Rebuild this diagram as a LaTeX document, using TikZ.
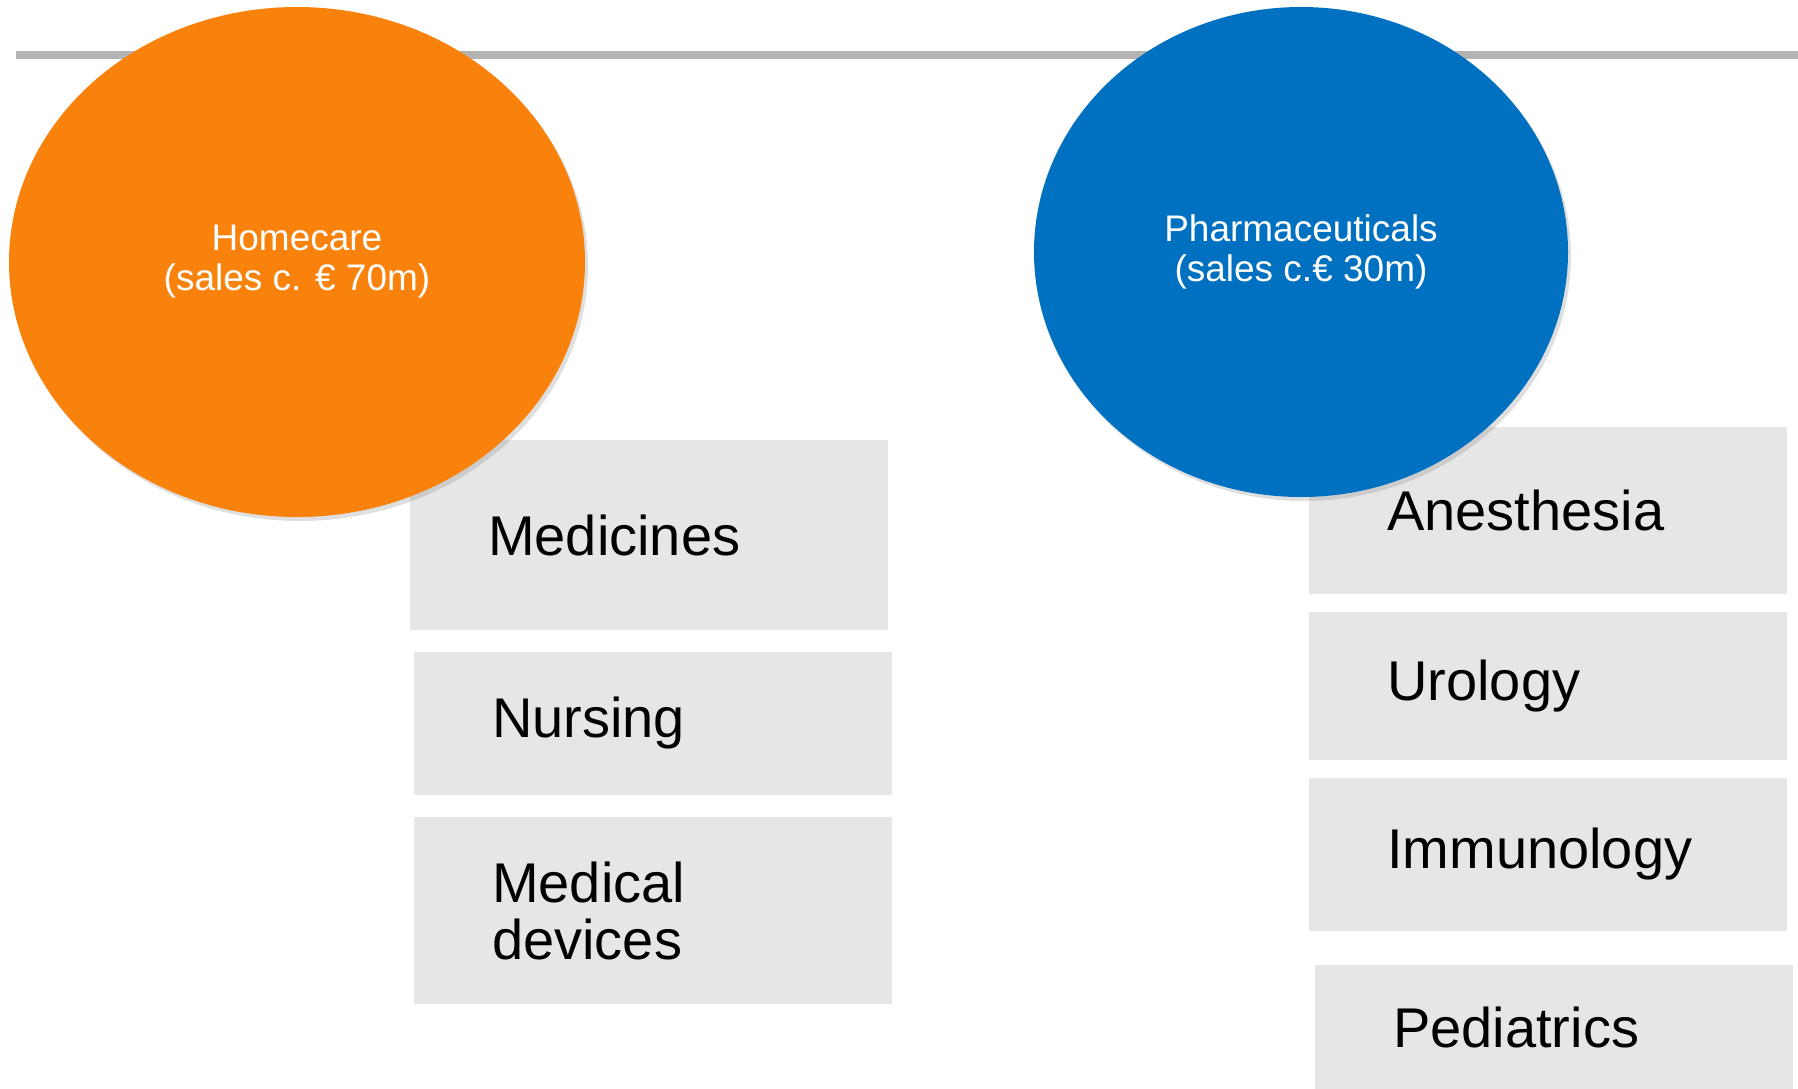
\documentclass[tikz,border=0pt]{standalone}
\usepackage{fontspec}
\setmainfont{Liberation Sans}
\usetikzlibrary{positioning,shapes.geometric,shadows}
\definecolor{homeorange}{HTML}{F8820B}
\definecolor{pharmablue}{HTML}{0070C0}
\definecolor{rulegray}{HTML}{B3B3B3}
\definecolor{boxgray}{HTML}{E6E6E6}

\begin{document}
\begin{tikzpicture}[x=1pt, y=-1pt, node distance={20pt},
    main/.style = {rectangle, fill=boxgray, inner xsep=78pt, inner ysep=0pt, text width=322pt, align=left, font=\fontsize{56}{57}\selectfont},
    bubble/.style = {ellipse, inner sep=0pt, text=white, align=center, font=\fontsize{37}{40}\selectfont, drop shadow={shadow xshift=3pt, shadow yshift=-4pt, opacity=0.25}}]
    \useasboundingbox (0,0) rectangle (1798,1088);
    \draw[rulegray, line width=8pt] (16,55) -- (1798,55);
    % Homecare column
    \node[main, anchor=north west, minimum height=190pt] (2) at (410,440) {Medicines};
    \node[main, minimum height=143pt] (3) [below=21pt of 2, xshift=4pt] {Nursing};
    \node[main, minimum height=187pt] (4) [below=22pt of 3] {Medical\\devices};
    % Pharmaceuticals column
    \node[main, anchor=north west, minimum height=167pt] (6) at (1309,427) {Anesthesia};
    \node[main, minimum height=148pt] (7) [below=17pt of 6] {Urology};
    \node[main, minimum height=153pt] (8) [below=18pt of 7] {Immunology};
    \node[main, minimum height=124pt] (9) [below=34pt of 8, xshift=6pt] {Pediatrics};
    \node[bubble, fill=homeorange, minimum width=576pt, minimum height=510pt] (1) at (297,262) {Homecare\\(sales c. € 70m)};
    \node[bubble, fill=pharmablue, minimum width=534pt, minimum height=490pt] (5) at (1301,252) {Pharmaceuticals\\(sales c.€ 30m)};
\end{tikzpicture}
\end{document}
